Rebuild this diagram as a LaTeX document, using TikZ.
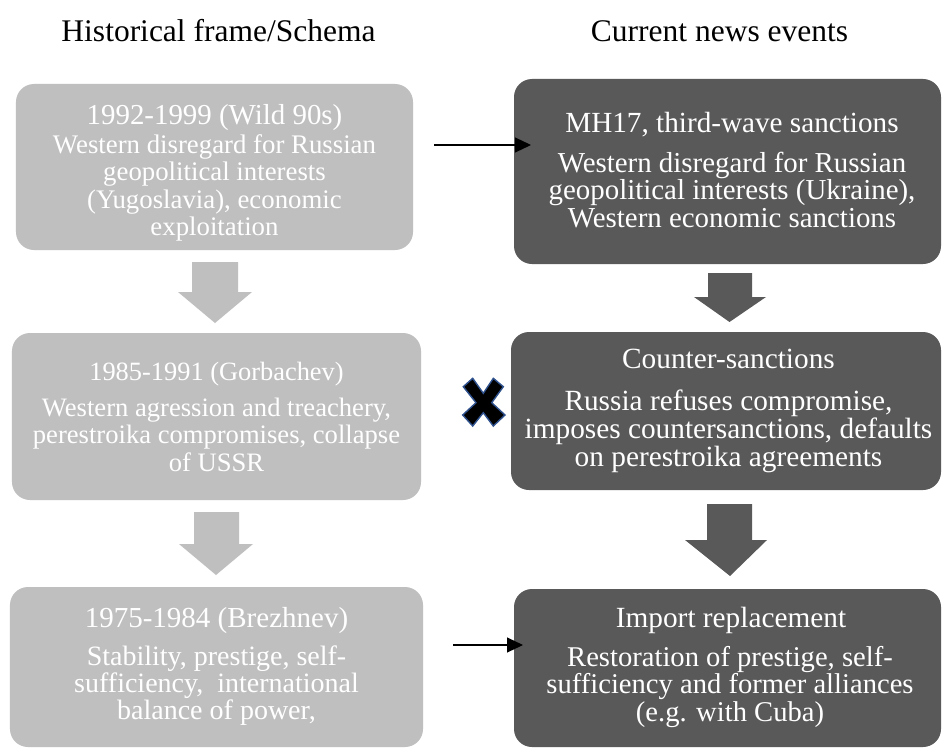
\documentclass[tikz,border=0pt]{standalone}
\usepackage{fontspec}
\setmainfont{Liberation Serif}
\usetikzlibrary{arrows.meta}
\newcommand\myfs[1]{\fontsize{#1bp}{#1bp}\selectfont}
\definecolor{lgray}{HTML}{BFBFBF}
\definecolor{dgray}{HTML}{595959}
\definecolor{xblue}{HTML}{2F528F}
\tikzset{
  lbox/.style={fill=lgray, rounded corners=18bp, inner sep=0pt, outer sep=0pt},
  rbox/.style={fill=dgray, rounded corners=18bp, inner sep=0pt, outer sep=0pt},
  txt/.style={anchor=base, inner sep=0pt, text=white},
  head/.style={anchor=base, inner sep=0pt, text=black, font=\myfs{31.5}},
  larrow/.style={fill=lgray, draw=none},
  rarrow/.style={fill=dgray, draw=none},
  link/.style={draw=black, line width=1.1bp, -{Triangle[length=16bp,width=15bp]}},
}
\begin{document}
\begin{tikzpicture}[x=1bp,y=-1bp]
\useasboundingbox (0,0) rectangle (943,749);
\fill[white] (0,0) rectangle (943,749);

% headings
\node[head] (h1) at (218.5,42) {Historical frame/Schema};
\node[head] (h2) at (719.5,42) {Current news events};

% left boxes
\node[lbox, minimum width=397bp, minimum height=166bp] (l1) at (214.5,167) {};
\node[lbox, minimum width=409bp, minimum height=167bp] (l2) at (216.5,416.5) {};
\node[lbox, minimum width=413bp, minimum height=160bp] (l3) at (216.5,667) {};

% right boxes
\node[rbox, minimum width=427bp, minimum height=185bp] (r1) at (727.5,171.5) {};
\node[rbox, minimum width=430bp, minimum height=158bp] (r2) at (726,411) {};
\node[rbox, minimum width=427bp, minimum height=158bp] (r3) at (727.5,668) {};

% L1 text
\node[txt, font=\myfs{28.9}] (l1a) at (214.5,124) {1992-1999 (Wild 90s)};
\node[txt, font=\myfs{26.8}] (l1b) at (214.5,153) {Western disregard for Russian};
\node[txt, font=\myfs{26.8}] (l1c) at (214.5,180.5) {geopolitical interests};
\node[txt, font=\myfs{26.8}] (l1d) at (214.5,208) {(Yugoslavia), economic};
\node[txt, font=\myfs{26.8}] (l1e) at (214.5,235) {exploitation};

% L2 text
\node[txt, font=\myfs{26.4}] (l2a) at (216.5,380) {1985-1991 (Gorbachev)};
\node[txt, font=\myfs{26.6}] (l2b) at (216.5,416) {Western agression and treachery,};
\node[txt, font=\myfs{26.6}] (l2c) at (216.5,443.5) {perestroika compromises, collapse};
\node[txt, font=\myfs{26.6}] (l2d) at (216.5,471.5) {of USSR};

% L3 text
\node[txt, font=\myfs{29}] (l3a) at (216.5,627) {1975-1984 (Brezhnev)};
\node[txt, font=\myfs{28}] (l3b) at (216.5,665) {Stability, prestige, self-};
\node[txt, font=\myfs{28}] (l3c) at (216.5,692) {sufficiency,\ \ international};
\node[txt, font=\myfs{28}] (l3d) at (216.5,719) {balance of power,};

% R1 text
\node[txt, font=\myfs{29.2}] (r1a) at (732,132) {MH17, third-wave sanctions};
\node[txt, font=\myfs{28.9}] (r1b) at (732,172) {Western disregard for Russian};
\node[txt, font=\myfs{28.9}] (r1c) at (732,199.5) {geopolitical interests (Ukraine),};
\node[txt, font=\myfs{28.9}] (r1d) at (732,227) {Western economic sanctions};

% R2 text
\node[txt, font=\myfs{29.3}] (r2a) at (728.5,368) {Counter-sanctions};
\node[txt, font=\myfs{29.3}] (r2b) at (728.5,410) {Russia refuses compromise,};
\node[txt, font=\myfs{29.3}] (r2c) at (728.5,438.3) {imposes countersanctions, defaults};
\node[txt, font=\myfs{29.3}] (r2d) at (728.5,466.7) {on perestroika agreements};

% R3 text
\node[txt, font=\myfs{29.3}] (r3a) at (731,627) {Import replacement};
\node[txt, font=\myfs{28.6}] (r3b) at (730,666) {Restoration of prestige, self-};
\node[txt, font=\myfs{28.6}] (r3c) at (730,693.5) {sufficiency and former alliances};
\node[txt, font=\myfs{28.6}] (r3d) at (730,721.5) {(e.g. with Cuba)};

% block arrows (left, light)
\fill[larrow] (192,262) -- (238,262) -- (238,292) -- (252,292) -- (215,323) -- (178,292) -- (192,292) -- cycle;
\fill[larrow] (194,512) -- (239,512) -- (239,544) -- (253,544) -- (216,575) -- (179,544) -- (194,544) -- cycle;
% block arrows (right, dark)
\fill[rarrow] (708,273) -- (752,273) -- (752,297) -- (766,297) -- (729.5,322) -- (694,297) -- (708,297) -- cycle;
\fill[rarrow] (707,504) -- (752,504) -- (752,540) -- (767,540) -- (730,576) -- (685,540) -- (707,540) -- cycle;

% horizontal connectors
\coordinate (c1s) at (434,145);
\coordinate (c1e) at (531,145);
\coordinate (c2s) at (453,645);
\coordinate (c2e) at (523,645);
\draw[link] (c1s) -- (c1e);
\draw[link] (c2s) -- (c2e);

% cross mark
\filldraw[fill=black, draw=xblue, line width=1.4bp, line join=miter]
  (472.7,378.3) -- (483.3,393.3) -- (493.3,378.3) -- (503.3,386.7) -- (491.7,402.7)
  -- (505,415) -- (493.3,426) -- (483.3,412.7) -- (472.7,426) -- (462.7,415)
  -- (476,402.7) -- (463.3,386.7) -- cycle;
\end{tikzpicture}
\end{document}
